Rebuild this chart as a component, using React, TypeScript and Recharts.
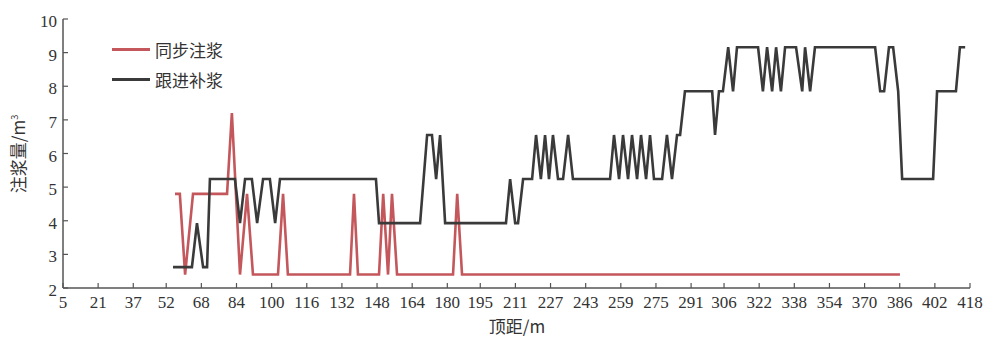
import React from "react";
import { LineChart, Line, XAxis, YAxis } from "recharts";

// 同步注浆 series
const syncX = [56.0, 58.2, 60.6, 64.2, 79.7, 81.9, 85.6, 88.8, 91.5, 102.9, 105.2, 107.4, 135.7, 137.5, 139.3, 148.9, 150.8, 153.0, 154.8, 157.1, 182.6, 184.5, 186.7, 386.1];
const syncY = [4.8, 4.8, 2.4, 4.8, 4.8, 7.2, 2.4, 4.8, 2.4, 2.4, 4.8, 2.4, 2.4, 4.8, 2.4, 2.4, 4.8, 2.4, 4.8, 2.4, 2.4, 4.8, 2.4, 2.4];

// 跟进补浆 series
const followX = [
  55.1, 63.7, 66.0, 68.8, 70.6, 71.9, 83.3, 85.6, 87.9, 91.0, 93.4, 96.1, 99.2, 101.6, 103.8, 147.5, 148.9,
  167.6, 170.8, 173.0, 174.9, 176.7, 179.0, 206.7, 208.6, 210.9, 212.2, 214.5, 218.6, 220.4, 222.6, 224.5,
  226.3, 228.1, 230.4, 232.7, 235.0, 237.2, 254.1, 255.9, 258.2, 260.0, 262.3, 264.1, 266.4, 268.2, 270.5,
  272.3, 274.1, 277.8, 280.0, 282.3, 284.6, 286.0, 288.2, 300.6, 301.9, 303.7, 305.5, 307.9, 310.1, 311.9,
  321.5, 323.7, 325.6, 327.9, 329.7, 331.9, 333.8, 338.8, 341.6, 342.9, 345.2, 347.4, 374.8, 377.1, 378.9,
  381.1, 383.0, 385.3, 387.1, 401.2, 403.0, 411.6, 413.4, 415.8,
];
const followY = [
  2.62, 2.62, 3.93, 2.62, 2.62, 5.24, 5.24, 3.93, 5.24, 5.24, 3.93, 5.24, 5.24, 3.93, 5.24, 5.24, 3.93,
  3.93, 6.55, 6.55, 5.24, 6.55, 3.93, 3.93, 5.24, 3.93, 3.93, 5.24, 5.24, 6.55, 5.24, 6.55,
  5.24, 6.55, 5.24, 5.24, 6.55, 5.24, 5.24, 6.55, 5.24, 6.55, 5.24, 6.55, 5.24, 6.55, 5.24,
  6.55, 5.24, 5.24, 6.55, 5.24, 6.55, 6.55, 7.85, 7.85, 6.55, 7.85, 7.85, 9.16, 7.85, 9.16,
  9.16, 7.85, 9.16, 7.85, 9.16, 7.85, 9.16, 9.16, 7.85, 9.16, 7.85, 9.16, 9.16, 7.85, 7.85,
  9.16, 9.16, 7.85, 5.24, 5.24, 7.85, 7.85, 9.16, 9.16,
];

const xTicks = [5, 21, 37, 52, 68, 84, 100, 116, 132, 148, 164, 180, 195, 211, 227, 243, 259, 275, 291, 306, 322, 338, 354, 370, 386, 402, 418];
const yTicks = [2, 3, 4, 5, 6, 7, 8, 9, 10];

const syncData = syncX.map((x, i) => ({ x, v: syncY[i] }));
const followData = followX.map((x, i) => ({ x, v: followY[i] }));

const RED = "#c4575c";
const DARK = "#3a3a3a";
const AXIS = "#555";
const NUM_FONT = "'Liberation Serif', 'DejaVu Serif', serif";
const CJK_FONT = "'Noto Sans CJK SC', sans-serif";

const legendItems = [
  { name: "同步注浆", color: RED },
  { name: "跟进补浆", color: DARK },
];

const XTick = (props: any) => {
  const { x, y, payload } = props;
  return (
    <g>
      <line x1={x} y1={y} x2={x} y2={y - 5} stroke={AXIS} strokeWidth={1.2} />
      <text x={x} y={y + 20} textAnchor="middle" fontSize={17} fontFamily={NUM_FONT} fill="#333">
        {payload.value}
      </text>
    </g>
  );
};

const YTick = (props: any) => {
  const { x, y, payload } = props;
  return (
    <g>
      <line x1={x} y1={y} x2={x + 5} y2={y} stroke={AXIS} strokeWidth={1.2} />
      <text x={x - 6} y={y + 8} textAnchor="end" fontSize={17} fontFamily={NUM_FONT} fill="#333">
        {payload.value}
      </text>
    </g>
  );
};

export default function App() {
  return (
    <div style={{ position: "absolute", left: 0, top: 0, width: 984, height: 337, background: "#fff", overflow: "hidden" }}>
      <LineChart width={984} height={337} margin={{ top: 19, right: 14, bottom: 19, left: 8 }}>
        <XAxis
          type="number"
          dataKey="x"
          domain={[5, 418]}
          ticks={xTicks}
          interval={0}
          tickSize={0}
          tickMargin={0}
          tick={<XTick />}
          stroke={AXIS}
          strokeWidth={1.5}
          height={30}
          allowDuplicatedCategory={false}
        />
        <YAxis
          type="number"
          domain={[2, 10]}
          ticks={yTicks}
          interval={0}
          tickSize={0}
          tickMargin={0}
          tick={<YTick />}
          stroke={AXIS}
          strokeWidth={1.5}
          width={55}
        />
        <Line
          data={syncData}
          dataKey="v"
          name="同步注浆"
          type="linear"
          stroke={RED}
          strokeWidth={2.6}
          dot={false}
          isAnimationActive={false}
        />
        <Line
          data={followData}
          dataKey="v"
          name="跟进补浆"
          type="linear"
          stroke={DARK}
          strokeWidth={2.6}
          dot={false}
          isAnimationActive={false}
        />
      </LineChart>
      <div style={{ position: "absolute", left: 112, top: 34 }}>
        {legendItems.map((it) => (
          <div key={it.name} style={{ display: "flex", alignItems: "center", height: 30 }}>
            <div style={{ width: 38, height: 3, background: it.color, marginRight: 5 }} />
            <span style={{ fontFamily: CJK_FONT, fontSize: 17, color: "#333" }}>{it.name}</span>
          </div>
        ))}
      </div>
      <div
        style={{
          position: "absolute",
          left: 17,
          top: 154,
          transform: "translate(-50%, -50%) rotate(-90deg)",
          fontFamily: CJK_FONT,
          fontSize: 17,
          color: "#333",
          whiteSpace: "nowrap",
        }}
      >
        注浆量/m<sup style={{ fontSize: 9 }}>3</sup>
      </div>
      <div
        style={{
          position: "absolute",
          left: 517,
          top: 316,
          fontFamily: CJK_FONT,
          fontSize: 17,
          lineHeight: "20px",
          color: "#333",
          whiteSpace: "nowrap",
          transform: "translateX(-50%)",
        }}
      >
        顶距/m
      </div>
    </div>
  );
}
